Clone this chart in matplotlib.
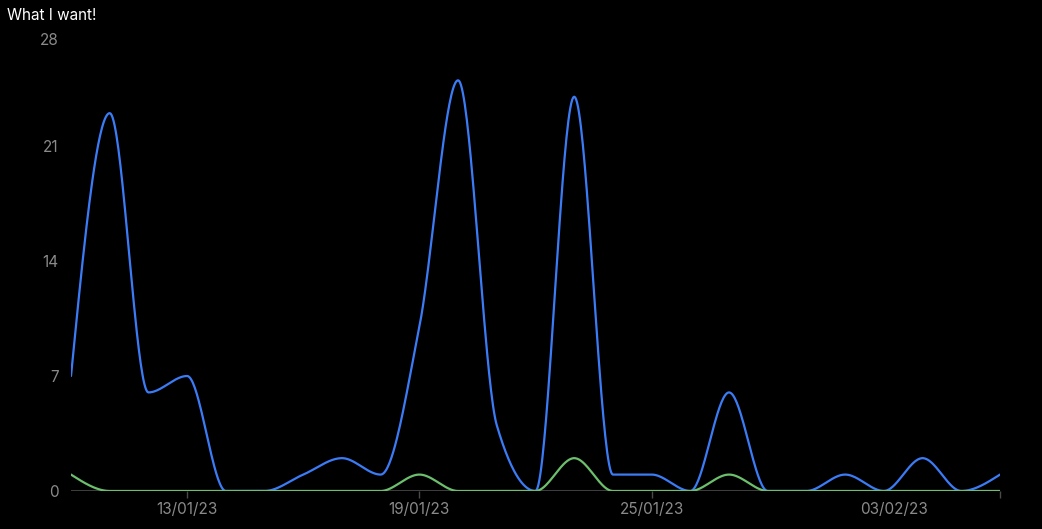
import numpy as np
import matplotlib
matplotlib.use("Agg")
import matplotlib.pyplot as plt
import matplotlib.transforms as mtransforms

# ---- data ----
n_points = 25
blue_values = [7, 23, 6, 7, 0, 0, 1, 2, 1, 10, 25, 4, 0, 24, 1, 1, 0, 6, 0, 0, 1, 0, 2, 0, 1]
green_values = [1, 0, 0, 0, 0, 0, 0, 0, 0, 1, 0, 0, 0, 2, 0, 0, 0, 1, 0, 0, 0, 0, 0, 0, 0]
tick_positions = [3, 9, 15, 21.25]
tick_labels = ["13/01/23", "19/01/23", "25/01/23", "03/02/23"]
y_ticks = [0, 7, 14, 21, 28]
title = "What I want!"

BLUE = "#3b7cf6"
GREEN = "#6cbf6c"


def monotone_x(xs, ys, samples=40):
    """d3 curveMonotoneX equivalent (cubic Hermite with Steffen-like slopes)."""
    xs = np.asarray(xs, float)
    ys = np.asarray(ys, float)
    n = len(xs)
    t = np.zeros(n)
    for i in range(1, n - 1):
        h0 = xs[i] - xs[i - 1]
        h1 = xs[i + 1] - xs[i]
        s0 = (ys[i] - ys[i - 1]) / h0
        s1 = (ys[i + 1] - ys[i]) / h1
        p = (s0 * h1 + s1 * h0) / (h0 + h1)
        t[i] = (np.sign(s0) + np.sign(s1)) * min(abs(s0), abs(s1), 0.5 * abs(p))
    h = xs[1] - xs[0]
    t[0] = (3 * (ys[1] - ys[0]) / h - t[1]) / 2
    h = xs[-1] - xs[-2]
    t[-1] = (3 * (ys[-1] - ys[-2]) / h - t[-2]) / 2
    X, Y = [], []
    for i in range(n - 1):
        dx = xs[i + 1] - xs[i]
        u = np.linspace(0, 1, samples, endpoint=(i == n - 2))
        h00 = 2 * u**3 - 3 * u**2 + 1
        h10 = u**3 - 2 * u**2 + u
        h01 = -2 * u**3 + 3 * u**2
        h11 = u**3 - u**2
        X.append(xs[i] + u * dx)
        Y.append(h00 * ys[i] + h10 * dx * t[i] + h01 * ys[i + 1] + h11 * dx * t[i + 1])
    return np.concatenate(X), np.concatenate(Y)


plt.rcParams["font.family"] = ["Inter", "DejaVu Sans"]

fig = plt.figure(figsize=(10.42, 5.29), dpi=100, facecolor="black")
ax = fig.add_axes([71 / 1042, 1 - 491 / 529, (1000 - 71) / 1042, (491 - 31) / 529])
ax.set_facecolor("black")

x = np.arange(n_points)
bx, by = monotone_x(x, blue_values)
gx, gy = monotone_x(x, green_values)

ax.axhline(0, color="#3d3d3d", lw=1.5, zorder=1)
ax.plot(bx, by, color=BLUE, lw=1.6, zorder=3, solid_capstyle="round")
ax.plot(gx, gy, color=GREEN, lw=1.6, zorder=4, solid_capstyle="round")

ax.set_xlim(0, n_points - 1)
ax.set_ylim(0, 28)

for s in ax.spines.values():
    s.set_visible(False)

ax.set_yticks(y_ticks)
ax.set_yticklabels([str(v) for v in y_ticks])
ax.tick_params(axis="y", length=0, pad=9, labelsize=11, labelcolor="#8a8a8a")

ax.set_xticks(tick_positions + [n_points - 1])
ax.set_xticklabels(tick_labels + [""])
ax.tick_params(axis="x", length=5, width=1, color="#4a4a4a", pad=3, labelsize=11,
               labelcolor="#8a8a8a")
# hide tick mark of the last labelled date
xt = ax.xaxis.get_major_ticks()
xt[3].tick1line.set_visible(False)

# the top y label sits slightly lower in the reference
ylabels = ax.get_yticklabels()
offset = mtransforms.ScaledTranslation(0, -8 / 100, fig.dpi_scale_trans)
ylabels[-1].set_transform(ylabels[-1].get_transform() + offset)

fig.text(7 / 1042, 1 - 15 / 529, title, color="white", fontsize=11, ha="left", va="center")

fig.savefig("out.png", dpi=100, facecolor="black")
